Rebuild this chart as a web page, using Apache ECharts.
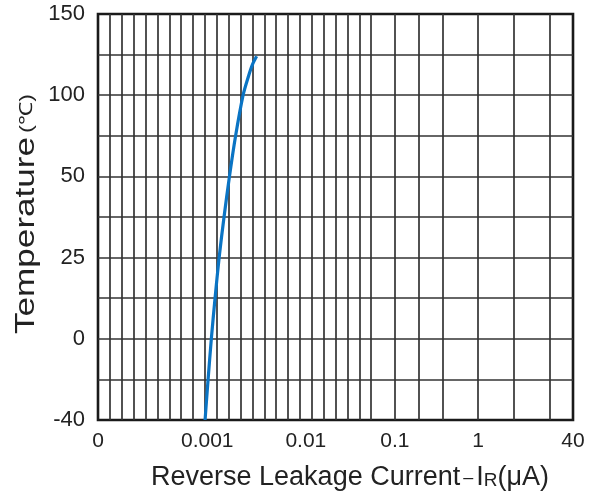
<!DOCTYPE html>
<html>
<head>
<meta charset="utf-8">
<script src="https://cdn.jsdelivr.net/npm/echarts@6/dist/echarts.min.js"></script>
<style>
html,body{margin:0;padding:0;background:#fff;}
#chart{width:601px;height:495px;}
</style>
</head>
<body>
<div id="chart"></div>
<script>
// ---- Data ----
const temperature = [-40, -20, 0, 12.5, 25, 37.5, 50, 75, 100, 112, 119, 124];          // °C
const leakageCurrent = [0.00098, 0.00102, 0.00110, 0.00120, 0.00132, 0.00148,
                        0.00168, 0.00194, 0.00231, 0.00263, 0.00288, 0.00317];          // µA

// ---- Axis definitions (the chart's axes are not uniform) ----
const xTickLabels = ['0', '0.001', '0.01', '0.1', '1', '40'];
const xTickValues = [0, 0.001, 0.01, 0.1, 1, 40];
const xTickCells  = [0, 9.2, 17.5, 25, 32, 40];          // position of each label along the 40-cell grid
const xGridCells  = [1,2,3,4,5,6,7,8,9,10,11,12,13,14,15,16,17,18,19,20,21,22,23,25,27,29,32,35,38];
const yTickLabels = ['-40', '0', '25', '50', '100', '150'];
const yTickValues = [-40, 0, 25, 50, 100, 150];
const yTickCells  = [0, 2, 4, 6, 8, 10];

function interp(v, vals, cells, logScale) {
  for (let i = 0; i < vals.length - 1; i++) {
    if (v <= vals[i + 1] || i === vals.length - 2) {
      const a = vals[i], b = vals[i + 1];
      let t;
      if (logScale && a > 0) t = (Math.log10(v) - Math.log10(a)) / (Math.log10(b) - Math.log10(a));
      else t = (v - a) / (b - a);
      return cells[i] + t * (cells[i + 1] - cells[i]);
    }
  }
}
const seriesData = temperature.map((t, i) => [
  interp(leakageCurrent[i], xTickValues, xTickCells, true),
  interp(t, yTickValues, yTickCells, false)
]);

const FONT = '"Liberation Sans", Arial, sans-serif';
const chart = echarts.init(document.getElementById('chart'), null, {renderer: 'canvas'});
chart.setOption({
  animation: false,
  backgroundColor: '#ffffff',
  grid: {left: 98, top: 14, width: 475, height: 406, show: true,
         borderColor: '#1a1a1a', borderWidth: 2.6, backgroundColor: 'transparent', containLabel: false},
  xAxis: {
    type: 'value', min: 0, max: 40,
    axisLine: {show: false},
    axisTick: {show: false, customValues: xGridCells},
    splitLine: {show: true, lineStyle: {color: '#333333', width: 1.7}},
    axisLabel: {
      customValues: xTickCells, margin: 11, color: '#222', fontSize: 21, fontFamily: FONT,
      formatter: function (v) {
        for (let i = 0; i < xTickCells.length; i++) if (Math.abs(xTickCells[i] - v) < 1e-6) return xTickLabels[i];
        return '';
      }
    }
  },
  yAxis: {
    type: 'value', min: 0, max: 10, interval: 1,
    axisLine: {show: false},
    axisTick: {show: false},
    splitLine: {show: true, showMinLine: false, showMaxLine: false, lineStyle: {color: '#333333', width: 1.7}},
    axisLabel: {
      customValues: yTickCells, margin: 13, color: '#222', fontSize: 22, fontFamily: FONT,
      formatter: function (v) {
        for (let i = 0; i < yTickCells.length; i++) if (Math.abs(yTickCells[i] - v) < 1e-6) return yTickLabels[i];
        return '';
      }
    }
  },
  graphic: [
    {type: 'text', x: 27, y: 214, rotation: Math.PI / 2, scaleX: 1.3,
     style: {text: '{a|Temperature}{b|(℃)}', align: 'center', verticalAlign: 'middle',
       rich: {a: {fontSize: 27, fontFamily: FONT, fill: '#222'},
              b: {fontSize: 18, fontFamily: FONT, fill: '#222', padding: [0, 0, 0, 3]}}}},
    {type: 'text', x: 350, y: 478,
     style: {text: '{a|Reverse Leakage Current}{d|–}{a|I}{s|R}{a|(μA)}', align: 'center', verticalAlign: 'middle',
       rich: {a: {fontSize: 27, fontFamily: FONT, fill: '#222'},
              d: {fontSize: 18, fontFamily: FONT, fill: '#222', padding: [0, 3, 0, 3]},
              s: {fontSize: 19, fontFamily: FONT, fill: '#222', padding: [5, 0, 0, 0]}}}}
  ],
  series: [{
    type: 'line', data: seriesData, smooth: 0.3, showSymbol: false,
    lineStyle: {color: '#0a74c4', width: 3.2}, z: 5
  }]
});
</script>
</body>
</html>
